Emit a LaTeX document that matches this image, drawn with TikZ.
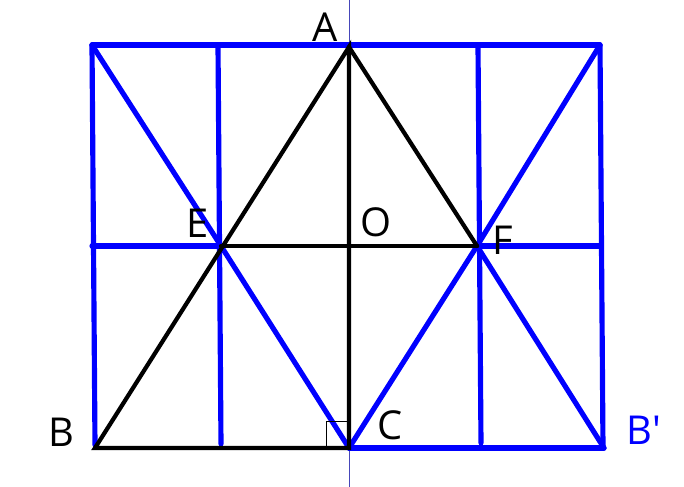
\documentclass[tikz,border=0pt]{standalone}
\usepackage{fontspec}
\setmainfont[Ligatures=TeXOff]{Open Sans}
\begin{document}
\begin{tikzpicture}[x=0.3mm,y=-0.3mm]
      \tikzstyle{bline} = [draw=blue, line width=4.4pt, line cap=round]
      \tikzstyle{kline} = [draw=black, line width=3.6pt, line cap=round]
      \tikzstyle{lbl} = [inner sep=0pt, font=\fontsize{34}{40}\selectfont]
      \useasboundingbox (0,0) rectangle (684,487);

      \coordinate (A) at (349,47);
      \coordinate (B) at (95,448);
      \coordinate (C) at (349,448);
      \coordinate (Bp) at (604,448);
      \coordinate (E) at (221,246);
      \coordinate (F) at (477,246);
      \coordinate (O) at (349,246);
      \coordinate (tl) at (92,45);
      \coordinate (tr) at (600,45);
      \coordinate (bl) at (95,445);
      \coordinate (br) at (603,447);
      \coordinate (ml) at (92,246);
      \coordinate (mr) at (600,246);
      \coordinate (v1t) at (218,45);
      \coordinate (v1b) at (221,444);
      \coordinate (v2t) at (478,45);
      \coordinate (v2b) at (481,443);
      \coordinate (gt) at (349,0);
      \coordinate (gb) at (349,487);

      % thin guide line
      \draw[draw=blue!45!gray, line width=0.7pt] (gt) -- (gb);

      % blue construction
      \draw[bline] (tl) -- (tr);
      \draw[bline] (tl) -- (bl);
      \draw[bline] (tr) -- (br);
      \draw[bline] (v1t) -- (v1b);
      \draw[bline] (v2t) -- (v2b);
      \draw[bline] (ml) -- (E);
      \draw[bline] (F) -- (mr);
      \draw[bline] (tl) -- (E) -- (C);
      \draw[bline] (tr) -- (F) -- (C);
      \draw[bline] (F) -- (Bp);
      \draw[bline] (C) -- (Bp);

      % black triangle
      \draw[kline] (A) -- (B) -- (C) -- cycle;
      \draw[kline] (A) -- (F);
      \draw[kline] (E) -- (F);

      % right angle
      \draw[line width=0.8pt] (326,448) -- (326,421) -- (349,421);

      \node[lbl] (lA) at (325,27) {A};
      \node[lbl] (lB) at (61,432) {B};
      \node[lbl] (lC) at (390,425) {C};
      \node[lbl] (lE) at (198,223) {E};
      \node[lbl] (lF) at (503,240) {F};
      \node[lbl] (lO) at (376,222) {O};
      \node[lbl, text=blue] (lBp) at (644,430) {B'};
    \end{tikzpicture}
\end{document}
